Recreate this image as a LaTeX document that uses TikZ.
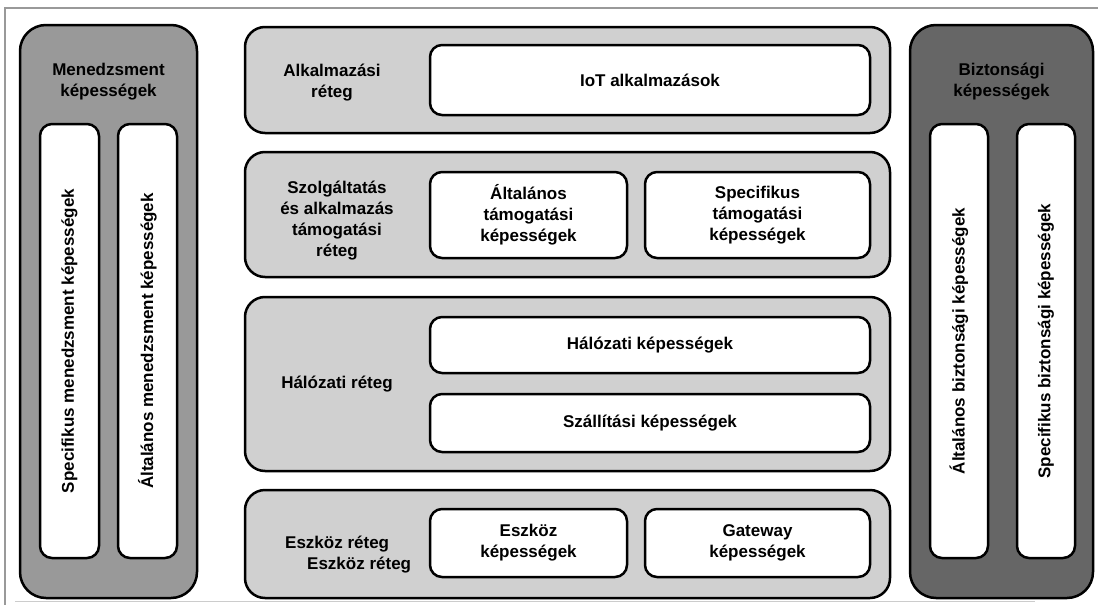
\documentclass[tikz,border=0pt]{standalone}
\usepackage{fontspec}
\setmainfont{Liberation Sans}
\definecolor{mgmtgray}{HTML}{999999}
\definecolor{secgray}{HTML}{666666}
\definecolor{layergray}{HTML}{D0D0D0}
\begin{document}
\begin{tikzpicture}[x=1pt,y=-1pt,
  txt/.style={font=\bfseries\fontsize{17}{21}\selectfont, align=center, inner sep=0pt},
  panel/.style={draw=black, line width=2.5pt, rounded corners=26pt, rectangle, inner sep=0pt},
  layerbox/.style={draw=black, line width=2.5pt, fill=layergray, rounded corners=20pt, rectangle, inner sep=0pt},
  capbox/.style={draw=black, line width=2.5pt, fill=white, rounded corners=12pt, rectangle, inner sep=0pt, txt}
]
\useasboundingbox (0,0) rectangle (1098,605);
\fill[white] (0,0) rectangle (1098,605);
% outer frame lines
\draw[gray!80, line width=1.2pt] (5,605) -- (5,8) -- (1098,8);
\draw[gray!40, line width=1pt] (15,601) -- (1035,601);

% management panel
\node[panel, fill=mgmtgray, minimum width=177pt, minimum height=573pt] (mgmt) at (108.5,311.5) {};
\node[txt] (mgmtT) at (108.5,82) {Menedzsment\\képességek};
\node[capbox, minimum width=59pt, minimum height=434pt] (mgmt1) at (69.5,341) {};
\node[txt, rotate=90] (mgmt1T) at (mgmt1.center) {Specifikus menedzsment képességek};
\node[capbox, minimum width=59pt, minimum height=434pt] (mgmt2) at (147.5,341) {};
\node[txt, rotate=90] (mgmt2T) at (mgmt2.center) {Általános menedzsment képességek};

% security panel
\node[panel, fill=secgray, minimum width=183pt, minimum height=573pt] (sec) at (1001.5,311.5) {};
\node[txt] (secT) at (1001.5,82) {Biztonsági\\képességek};
\node[capbox, minimum width=58pt, minimum height=434pt] (sec1) at (959,341) {};
\node[txt, rotate=90] (sec1T) at (sec1.center) {Általános biztonsági képességek};
\node[capbox, minimum width=58pt, minimum height=434pt] (sec2) at (1046,341) {};
\node[txt, rotate=90] (sec2T) at (sec2.center) {Specifikus biztonsági képességek};

% layers
\node[layerbox, minimum width=645pt, minimum height=106pt] (l1) at (567.5,80) {};
\node[layerbox, minimum width=645pt, minimum height=125pt] (l2) at (567.5,214.5) {};
\node[layerbox, minimum width=645pt, minimum height=174pt] (l3) at (567.5,384) {};
\node[layerbox, minimum width=645pt, minimum height=108pt] (l4) at (567.5,544) {};

% layer labels
\node[txt] (l1T) at (332,83) {Alkalmazási\\réteg};
\node[txt] (l2T) at (337,221) {Szolgáltatás\\és alkalmazás\\támogatási\\réteg};
\node[txt] (l3T) at (337,384) {Hálózati réteg};
\node[txt, align=left, anchor=west] (l4T) at (285,555) {Eszköz réteg\\\hspace*{22pt}Eszköz réteg};

% capability boxes
\node[capbox, minimum width=440pt, minimum height=70pt] (iot) at (650,80) {IoT alkalmazások};
\node[capbox, minimum width=197pt, minimum height=86pt] (gensup) at (528.5,215) {Általános\\támogatási\\képességek};
\node[capbox, minimum width=225pt, minimum height=86pt] (specsup) at (757.5,215) {Specifikus\\támogatási\\képességek};
\node[capbox, minimum width=440pt, minimum height=56pt] (net) at (650,345) {Hálózati képességek};
\node[capbox, minimum width=440pt, minimum height=58pt] (trans) at (650,423) {Szállítási képességek};
\node[capbox, minimum width=197pt, minimum height=68pt] (dev) at (528.5,543) {Eszköz\\képességek};
\node[capbox, minimum width=225pt, minimum height=68pt] (gw) at (757.5,543) {Gateway\\képességek};
\end{tikzpicture}
\end{document}
